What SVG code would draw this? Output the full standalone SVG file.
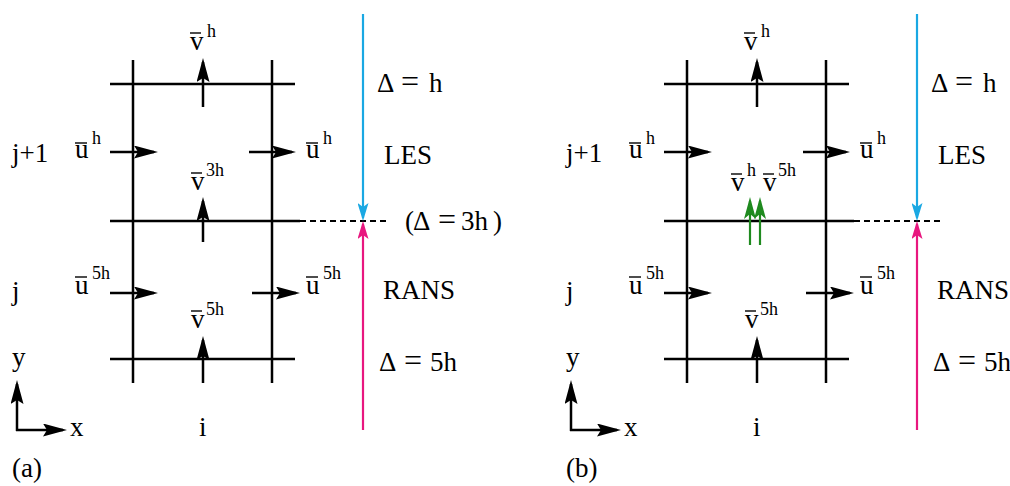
<svg xmlns="http://www.w3.org/2000/svg" width="1010" height="486" viewBox="0 0 1010 486">
<style>
text{font-family:"Liberation Serif","Times New Roman",serif;font-size:27px;fill:#000}
.sup{font-size:18px}
.eq{font-size:32px}
.g{stroke:#000;stroke-width:2.5;fill:none}
.bar{stroke:#000;stroke-width:1.4}
.ar{stroke:#000;stroke-width:2.5;marker-end:url(#ah)}
.blue{stroke:#1AA8E3;stroke-width:2.2;marker-end:url(#ahb)}
.mag{stroke:#E8177F;stroke-width:2.2;marker-end:url(#ahm)}
.grn{stroke:#1F8A1F;stroke-width:2.2;marker-end:url(#ahg)}
.dash{stroke:#000;stroke-width:2;stroke-dasharray:6,4}
</style>
<defs>
<marker id="ah" viewBox="0 0 24 13" refX="20" refY="6.5" markerWidth="24" markerHeight="13" markerUnits="userSpaceOnUse" orient="auto"><path d="M0,0 L24,6.5 L0,13 L4,6.5 Z" fill="#000"/></marker>
<marker id="ahb" viewBox="0 0 18 11" refX="15" refY="5.5" markerWidth="18" markerHeight="11" markerUnits="userSpaceOnUse" orient="auto"><path d="M0,0 L18,5.5 L0,11 L4,5.5 Z" fill="#1AA8E3"/></marker>
<marker id="ahm" viewBox="0 0 18 11" refX="15" refY="5.5" markerWidth="18" markerHeight="11" markerUnits="userSpaceOnUse" orient="auto"><path d="M0,0 L18,5.5 L0,11 L4,5.5 Z" fill="#E8177F"/></marker>
<marker id="ahg" viewBox="0 0 22 12" refX="18" refY="6" markerWidth="22" markerHeight="12" markerUnits="userSpaceOnUse" orient="auto"><path d="M0,0 L22,6 L0,12 L5,6 Z" fill="#1F8A1F"/></marker>
<g id="common">
  <g id="grid">
    <line class="g" x1="133" y1="60" x2="133" y2="383"/>
    <line class="g" x1="272" y1="60" x2="272" y2="383"/>
    <line class="g" x1="110" y1="84" x2="295" y2="84"/>
    <line class="g" x1="110" y1="221" x2="300" y2="221"/>
    <line class="g" x1="110" y1="359" x2="295" y2="359"/>
    <line class="dash" x1="300" y1="221" x2="388" y2="221"/>
  </g>
  <g id="arrows">
    <line class="ar" x1="203" y1="107" x2="203" y2="62"/>
    <line class="ar" x1="203" y1="383" x2="203" y2="340"/>
    <line class="ar" x1="110" y1="152" x2="154" y2="152"/>
    <line class="ar" x1="249" y1="152" x2="292" y2="152"/>
    <line class="ar" x1="110" y1="293" x2="154" y2="293"/>
    <line class="ar" x1="252" y1="293" x2="296" y2="293"/>
    <line class="ar" x1="17" y1="431" x2="17" y2="384"/>
    <line class="ar" x1="16" y1="430" x2="63" y2="430"/>
    <line class="blue" x1="363" y1="14" x2="363" y2="218"/>
    <line class="mag" x1="363" y1="430" x2="363" y2="224"/>
  </g>
  <g id="labels">
    <text x="190" y="50">v</text><line class="bar" x1="190" y1="33" x2="201" y2="33"/><text class="sup" x="207" y="37">h</text>
    <text x="12" y="162">j+1</text>
    <text x="75" y="158">u</text><line class="bar" x1="75" y1="143" x2="87" y2="143"/><text class="sup" x="92" y="144">h</text>
    <text x="306" y="158">u</text><line class="bar" x1="306" y1="143" x2="318" y2="143"/><text class="sup" x="323" y="144">h</text>
    <text x="384" y="164">LES</text>
    <text y="92"><tspan x="377">Δ</tspan><tspan class="eq" x="401">=</tspan><tspan x="429">h</tspan></text>
    <text x="12" y="300">j</text>
    <text x="75" y="294">u</text><line class="bar" x1="75" y1="277" x2="87" y2="277"/><text class="sup" x="92" y="279">5h</text>
    <text x="306" y="294">u</text><line class="bar" x1="306" y1="277" x2="318" y2="277"/><text class="sup" x="323" y="279">5h</text>
    <text x="383" y="299">RANS</text>
    <text x="191" y="328">v</text><line class="bar" x1="191" y1="311" x2="202" y2="311"/><text class="sup" x="206" y="315">5h</text>
    <text y="371"><tspan x="379">Δ</tspan><tspan class="eq" x="404">=</tspan><tspan x="430">5h</tspan></text>
    <text x="12" y="366">y</text>
    <text x="70" y="436">x</text>
    <text x="199" y="436">i</text>
  </g>
</g>
</defs>
<g id="panel-a">
  <use href="#common"/>
  <line class="ar" x1="203" y1="242" x2="203" y2="201"/>
  <text x="191" y="190">v</text><line class="bar" x1="191" y1="173" x2="202" y2="173"/><text class="sup" x="206" y="176">3h</text>
  <text y="230"><tspan x="405">(</tspan><tspan x="413">Δ</tspan><tspan class="eq" x="438">=</tspan><tspan x="461">3h</tspan><tspan x="493">)</tspan></text>
  <text x="12" y="477">(a)</text>
</g>
<g id="panel-b">
  <use href="#common" transform="translate(554,0)"/>
  <line class="grn" x1="750" y1="245" x2="750" y2="201"/>
  <line class="grn" x1="760" y1="245" x2="760" y2="201"/>
  <text x="731" y="191">v</text><line class="bar" x1="731" y1="174" x2="742" y2="174"/><text class="sup" x="747" y="176">h</text>
  <text x="763" y="191">v</text><line class="bar" x1="763" y1="174" x2="774" y2="174"/><text class="sup" x="778" y="176">5h</text>
  <text x="566" y="477">(b)</text>
</g>
</svg>
